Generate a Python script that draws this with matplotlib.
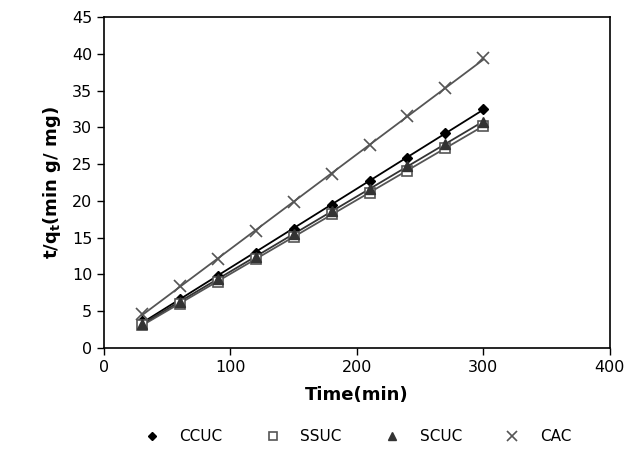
import matplotlib.pyplot as plt
import numpy as np

# Дані: час (хв) та t/qt для кожного сорбенту
time = [30, 60, 90, 120, 150, 180, 210, 240, 270, 300]
ccuc = [3.6, 6.6, 9.8, 12.9, 16.2, 19.5, 22.7, 25.9, 29.3, 32.5]
ssuc = [3.1, 6.0, 9.0, 12.1, 15.1, 18.2, 21.1, 24.1, 27.2, 30.2]
scuc = [3.3, 6.3, 9.3, 12.4, 15.5, 18.6, 21.6, 24.7, 27.8, 30.8]
cac = [4.6, 8.4, 12.1, 15.9, 19.8, 23.6, 27.6, 31.5, 35.4, 39.4]

plt.rcParams['font.family'] = ['DejaVu Sans']

fig = plt.figure(figsize=(6.3, 4.65), dpi=100)
ax = fig.add_axes([0.165, 0.252, 0.803, 0.711])

series = [
    ('CCUC', ccuc, dict(marker='D', ms=5, mfc='black', mec='black'), 'black'),
    ('SSUC', ssuc, dict(marker='s', ms=7, mfc='white', mec='#555555', mew=1.2), '#555555'),
    ('SCUC', scuc, dict(marker='^', ms=7, mfc='#333333', mec='#333333'), '#333333'),
    ('CAC', cac, dict(marker='x', ms=9, mec='#555555', mew=1.2), '#555555'),
]

t = np.array(time)
for name, vals, mk, col in series:
    # лінія тренду
    k, b = np.polyfit(t, vals, 1)
    ax.plot(t, k * t + b, color=col, linewidth=1.3, zorder=2)
    ax.plot(t, vals, linestyle='none', label=name, zorder=3, **mk)

ax.set_xlim(0, 400)
ax.set_ylim(0, 45)
ax.set_xticks([0, 100, 200, 300, 400])
ax.set_yticks(range(0, 46, 5))
ax.tick_params(labelsize=11.5, direction='out', length=5, width=1)
for s in ax.spines.values():
    s.set_linewidth(1.2)

ax.set_xlabel('Time(min)', fontsize=13, fontweight='bold', labelpad=8)
ax.set_ylabel('t/q$_\\mathbf{t}$(min g/ mg)', fontsize=13, fontweight='bold', labelpad=6)

ax.legend(loc='upper center', bbox_to_anchor=(0.5, -0.205), ncol=4, frameon=False,
          fontsize=11, handletextpad=1.2, columnspacing=2.7, handlelength=1.2,
          markerscale=0.85)

fig.savefig('out.png', dpi=100)
